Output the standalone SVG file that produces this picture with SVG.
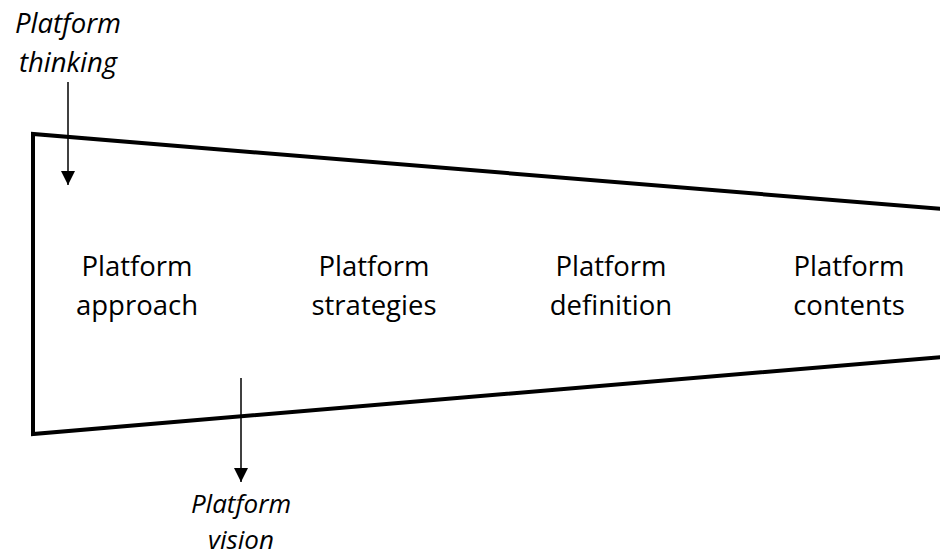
<svg xmlns="http://www.w3.org/2000/svg" width="940" height="559" viewBox="0 0 940 559">
  <style>
    .frame { fill: none; stroke: #000; stroke-width: 4; stroke-linejoin: miter; }
    .conn { stroke: #000; stroke-width: 1.5; fill: none; }
    .label { font-family: "Open Sans", "Liberation Sans", sans-serif; font-size: 27.5px; fill: #000; text-anchor: middle; }
    .note { font-style: italic; }
    .tight { font-size: 26px; }
  </style>
  <defs>
    <marker id="head" markerWidth="14" markerHeight="14" refX="14" refY="7" orient="auto" markerUnits="userSpaceOnUse">
      <path d="M0,0 L14,7 L0,14 Z" fill="#000"/>
    </marker>
  </defs>

  <!-- tapering funnel outline, open on the right edge -->
  <g id="funnel">
    <polyline class="frame" points="942,209 33,134 33,434 942,357"/>
  </g>

  <g id="stage-approach">
    <text class="label" x="137" y="276">Platform</text>
    <text class="label" x="137" y="315">approach</text>
  </g>
  <g id="stage-strategies">
    <text class="label" x="374" y="276">Platform</text>
    <text class="label" x="374" y="315">strategies</text>
  </g>
  <g id="stage-definition">
    <text class="label" x="611" y="276">Platform</text>
    <text class="label" x="611" y="315">definition</text>
  </g>
  <g id="stage-contents">
    <text class="label" x="849" y="276">Platform</text>
    <text class="label" x="849" y="315">contents</text>
  </g>

  <g id="input-thinking">
    <text class="label note" x="68" y="33">Platform</text>
    <text class="label note" x="68" y="72">thinking</text>
  </g>
  <g id="output-vision">
    <text class="label note tight" x="241" y="513">Platform</text>
    <text class="label note tight" x="241" y="549">vision</text>
  </g>

  <g id="connectors">
    <line class="conn" x1="68" y1="82" x2="68" y2="185" marker-end="url(#head)"/>
    <line class="conn" x1="241" y1="378" x2="241" y2="482" marker-end="url(#head)"/>
  </g>
</svg>
